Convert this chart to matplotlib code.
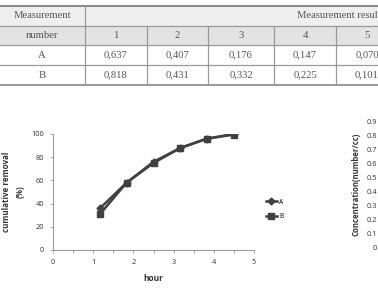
import matplotlib.pyplot as plt

# table data
col_labels = ['1', '2', '3', '4', '5']
row_names = ['A', 'B']
table_a = ['0,637', '0,407', '0,176', '0,147', '0,070']
table_b = ['0,818', '0,431', '0,332', '0,225', '0,101']

# chart data
hours = [1.17, 1.83, 2.5, 3.17, 3.83, 4.5]
removal_a = [36, 58, 76, 88, 96, 100]
removal_b = [31, 58, 75, 88, 96, 99.5]

W, H = 378, 289
fig = plt.figure(figsize=(W / 100, H / 100), dpi=100)

# overlay in pixel coords for the table
ov = fig.add_axes([0, 0, 1, 1])
ov.set_xlim(0, W)
ov.set_ylim(H, 0)
ov.axis('off')

line_c = '#9a9a9a'
txt_c = '#555555'
tfont = dict(family='Liberation Serif', fontsize=7.7, color=txt_c, ha='center', va='center')

col_x = [85, 147, 208, 274, 336, 398]
row_y = [5.5, 25.5, 45, 65, 85]

ov.fill_between([0, W], row_y[0], row_y[1], color='#efefef', zorder=0)
ov.fill_between([0, W], row_y[1], row_y[2], color='#e3e3e3', zorder=0)

ov.plot([0, W], [row_y[0]] * 2, color='#888888', lw=1.4)
for y in row_y[1:-1]:
    ov.plot([0, W], [y, y], color=line_c, lw=0.9)
ov.plot([0, W], [row_y[-1]] * 2, color='#888888', lw=1.2)
ov.plot([col_x[0]] * 2, [row_y[0], row_y[-1]], color=line_c, lw=0.9)
for x in col_x[1:-1]:
    ov.plot([x, x], [row_y[1], row_y[-1]], color=line_c, lw=0.9)

ov.text(42, 15.5, 'Measurement', **tfont)
ov.text(42, 35, 'number', **tfont)
ov.text(297, 15.5, 'Measurement results', **{**tfont, 'ha': 'left'})
for i, lab in enumerate(col_labels):
    cx = (col_x[i] + col_x[i + 1]) / 2
    ov.text(cx, 35, lab, **tfont)
    ov.text(cx, 55, table_a[i], **tfont)
    ov.text(cx, 75, table_b[i], **tfont)
ov.text(42, 55, row_names[0], **tfont)
ov.text(42, 75, row_names[1], **tfont)

# left chart
ax_c = '#404040'
lfont = 'Open Sans'
ax = fig.add_axes([53 / W, 1 - 250 / H, 201 / W, 116 / H])
ax.plot(hours, removal_a, color=ax_c, marker='D', markersize=3.5, lw=1.8, label='A')
ax.plot(hours, removal_b, color=ax_c, marker='s', markersize=4.5, lw=1.8, label='B')
ax.set_xlim(0, 5)
ax.set_ylim(0, 100)
ax.set_xticks(range(6))
ax.set_xticks([0.5, 1.5, 2.5, 3.5, 4.5], minor=True)
ax.set_yticks(range(0, 101, 20))
for s in ['top', 'right']:
    ax.spines[s].set_visible(False)
for s in ['left', 'bottom']:
    ax.spines[s].set_color('#9a9a9a')
    ax.spines[s].set_linewidth(0.8)
ax.tick_params(which='both', length=2.5, width=0.6, color='#9a9a9a',
               labelsize=5.3, labelcolor='#333333', pad=4)
for t in ax.get_xticklabels() + ax.get_yticklabels():
    t.set_family(lfont)
ax.set_xlabel('hour', fontsize=6, fontweight='bold', family=lfont, color='#333333', labelpad=6)
ax.set_ylabel('cumulative removal\n(%)', fontsize=5.8, fontweight='bold', family=lfont,
              color='#333333', labelpad=5, linespacing=1.6)
ax.legend(loc='center left', bbox_to_anchor=(1.03, 0.35), frameon=False,
          prop={'family': lfont, 'size': 4.8}, handlelength=1.6, labelspacing=1.1,
          handletextpad=0.4)

# right chart (mostly off canvas)
conc_ticks = [0, 0.1, 0.2, 0.3, 0.4, 0.5, 0.6, 0.7, 0.8, 0.9]
ax2 = fig.add_axes([381 / W, 1 - 247 / H, 100 / W, 125 / H])
ax2.set_ylim(0, 0.9)
ax2.set_yticks(conc_ticks)
ax2.set_yticklabels(['0', '0.1', '0.2', '0.3', '0.4', '0.5', '0.6', '0.7', '0.8', '0.9'])
ax2.set_xticks([])
ax2.tick_params(axis='y', length=0, labelsize=5.3, labelcolor='#333333', pad=3)
for t in ax2.get_yticklabels():
    t.set_family(lfont)
ax2.set_ylabel('Concentration(number/cc)', fontsize=5.6, fontweight='bold', family=lfont,
               color='#333333', labelpad=4)

fig.savefig('out.png', dpi=100)
